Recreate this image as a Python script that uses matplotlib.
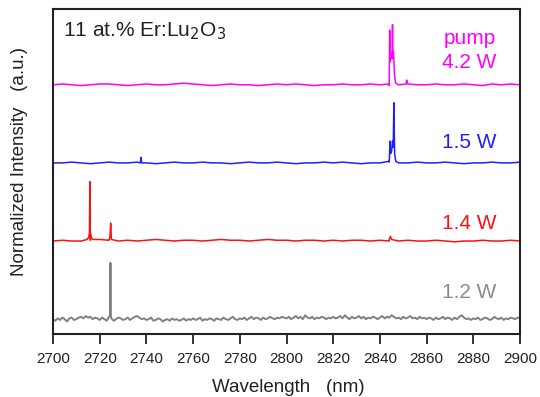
import numpy as np
import matplotlib
matplotlib.use("Agg")
import matplotlib.pyplot as plt

plt.rcParams['font.family'] = ['Liberation Sans', 'DejaVu Sans']

# ---------------- data ----------------
# baselines (x0.01 normalized units)
wl_coarse = np.arange(2700, 2901, 4)
magenta_base = [0, 1, 0, -1, 0, 1, 1, 0, -1, 0,
                1, 0, 0, 1, 2, 1, 0, -1, 0, 1,
                0, 0, -1, 0, 1, 0, 1, 0, -1, 0,
                0, 1, 0, 0, 1, 0, -1, 0, 1, 0,
                0, 1, 0, 0, 1, 0, -1, 1, 0, 1,
                0]
blue_base = [0, 0, 1, 0, -1, 0, 1, 0, 0, 1,
             0, -1, 0, 1, 0, 0, 1, 0, 0, -1,
             0, 1, 0, 0, 1, 0, -1, 0, 0, 1,
             0, 1, 0, -1, 0, 0, 1, 0, 0, 1,
             0, 0, 1, 0, -1, 0, 0, 1, 0, 0,
             1]
red_base = [0, 1, 0, 0, 1, 2, 1, 0, 1, 0,
            1, 2, 1, 0, 1, 1, 0, 1, 2, 1,
            1, 0, 1, 2, 1, 1, 0, 1, 1, 0,
            1, 0, 1, 1, 0, 1, 0, 0, 1, 0,
            0, 1, 0, -1, 0, 0, 1, 0, 0, 1,
            0]
wl_fine = np.arange(2700, 2901, 1)
gray_base = [0, -2, 1, -1, 2, 0, -3, 1, 2, -1, 0, 2, 3, 1, 4, 2, 3, 0, 2, 1,
             -1, 2, 0, -2, 3, 1, -2, 0, 2, 1, -1, 0, 2, -1, 1, 3, 4, 2, 0, 1,
             -1, 0, 2, -2, -1, 1, 0, -3, -1, 0, -2, 1, -1, 0, -2, -1, 1, -2, 0, -1,
             1, -1, 0, 2, -2, 0, -1, 1, 0, -2, 1, 0, -1, 2, 0, -1, 1, 3, 0, -1,
             1, 0, 2, -1, 1, 3, 0, 2, 1, -1, 2, 0, 1, 3, 1, 0, 2, 1, 3, 2,
             1, 3, 0, 2, 4, 1, 3, 0, 5, 2, 1, 3, 0, 2, 1, 3, 2, 0, 2, 1,
             3, 1, 2, 4, 1, 5, 2, 0, 3, 1, 2, 4, 1, 3, 0, 2, 1, 3, 2, 0,
             2, 4, 1, 3, 2, 5, 3, 1, 2, 0, 3, 1, 2, 4, 1, 2, 0, 3, 1, 2,
             0, 2, 1, -1, 2, 0, 1, 3, 0, 2, 1, -1, 2, 0, 3, 5, 2, 0, 1, -1,
             1, 0, 2, -1, 0, 2, 1, -1, 0, 3, 1, 0, 2, -1, 1, 0, 2, 1, 0, 2,
             1]

# peak points (wavelength nm, normalized intensity)
magenta_peak_wl = [2843.6, 2844.0, 2844.2, 2844.4, 2844.6, 2844.8, 2845.0, 2845.2,
                   2845.4, 2845.6, 2845.8, 2846.0, 2846.3, 2846.8, 2851.2, 2851.5, 2851.8]
magenta_peak_y = [0.01, 0.06, 0.70, 0.30, 0.40, 0.34, 0.38, 0.33,
                  0.77, 0.36, 0.42, 0.30, 0.10, 0.02, 0.01, 0.06, 0.01]
blue_peak_wl = [2737.4, 2737.7, 2738.0, 2843.8, 2844.1, 2844.3, 2844.6, 2845.0,
                2845.4, 2845.7, 2846.0, 2846.3, 2846.8]
blue_peak_y = [0.0, 0.07, 0.0, 0.02, 0.08, 0.28, 0.12, 0.15,
               0.28, 0.20, 0.77, 0.12, 0.02]
red_peak_wl = [2714.6, 2715.3, 2715.6, 2715.8, 2716.0, 2716.4, 2717.0,
               2724.1, 2724.4, 2724.7, 2725.0, 2844.0, 2844.5, 2845.0]
red_peak_y = [0.02, 0.05, 0.10, 0.76, 0.10, 0.04, 0.02,
              0.02, 0.06, 0.23, 0.02, 0.02, 0.06, 0.02]
gray_peak_wl = [2724.4, 2724.6, 2724.8]
gray_peak_y = [0.04, 0.72, 0.04]

offsets = [3.0, 2.0, 1.0, 0.0]
colors = ['#ff00ff', '#2020ff', '#ff1010', '#808080']
text_colors = ['#ff00ff', '#2020ff', '#ff1010', '#8c8c8c']
powers = ['4.2 W', '1.5 W', '1.4 W', '1.2 W']
x_ticks = [2700, 2720, 2740, 2760, 2780, 2800, 2820, 2840, 2860, 2880, 2900]

# ---------------- plot ----------------
fig = plt.figure(figsize=(5.40, 3.97), dpi=100)
ax = fig.add_axes([53/540, 1-334/397, 467/540, 325/397])


def build(base_wl, base_vals, pk_wl, pk_y):
    x = np.concatenate([np.asarray(base_wl, float), np.asarray(pk_wl, float)])
    y = np.concatenate([np.asarray(base_vals, float) * 0.01, np.asarray(pk_y, float)])
    order = np.argsort(x, kind='stable')
    return x[order], y[order]


traces = [
    build(wl_coarse, magenta_base, magenta_peak_wl, magenta_peak_y),
    build(wl_coarse, blue_base, blue_peak_wl, blue_peak_y),
    build(wl_coarse, red_base, red_peak_wl, red_peak_y),
    build(wl_fine, gray_base, gray_peak_wl, gray_peak_y),
]

for (x, y), off, c, lw in zip(traces, offsets, colors, [1.1, 1.1, 1.1, 1.4]):
    ax.plot(x, y + off, color=c, lw=lw)

ax.set_xlim(2700, 2900)
ax.set_ylim(-0.19, 3.97)
ax.set_xticks(x_ticks)
ax.set_yticks([])
ax.tick_params(axis='x', direction='out', length=7, width=1.3, labelsize=11,
               colors='#222222', pad=6)
for s in ax.spines.values():
    s.set_linewidth(1.5)
    s.set_color('#222222')

# annotations
def px(xp, yp):
    return xp / 540, 1 - yp / 397

fig.text(*px(63, 31), '11 at.% Er:Lu$_2$O$_3$', fontsize=15, color='#222222',
         ha='left', va='center')
fig.text(*px(496, 38), 'pump', fontsize=15, color=text_colors[0], ha='right', va='center')
label_y = [63, 143, 223, 292]
for ly, p, c in zip(label_y, powers, text_colors):
    fig.text(*px(496, ly), p, fontsize=15, color=c, ha='right', va='center')

fig.text(*px(288, 387), 'Wavelength   (nm)', fontsize=13.5, color='#222222',
         ha='center', va='center')
fig.text(*px(20, 162), 'Normalized Intensity   (a.u.)', fontsize=13.5, color='#222222',
         ha='center', va='center', rotation=90)

fig.savefig('out.png', dpi=100)
